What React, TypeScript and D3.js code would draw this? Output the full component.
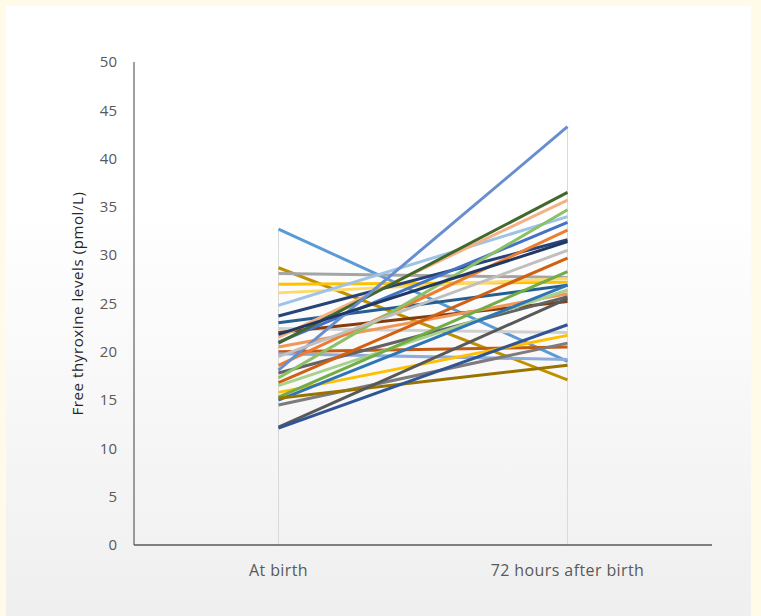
import React from 'react';
import * as d3 from 'd3';

const categories = ['At birth', '72 hours after birth'];

// one entry per infant: value at birth, value 72 h later
const atBirth = [
  32.7, 28.7, 28.1, 27.0, 26.1, 24.8, 23.7, 23.0, 22.4, 22.0,
  21.5, 21.0, 20.9, 20.5, 20.0, 19.8, 18.6, 18.1, 17.8, 17.3,
  16.8, 16.5, 15.8, 15.3, 15.0, 14.5, 15.2, 12.2, 12.1, 21.8, 19.5,
];
const after72h = [
  19.0, 17.1, 27.7, 27.2, 27.6, 34.0, 31.6, 26.9, 22.0, 25.2,
  35.7, 33.4, 36.5, 26.0, 20.5, 19.2, 32.6, 43.3, 25.7, 34.7,
  29.7, 26.4, 21.7, 28.3, 26.9, 20.9, 18.6, 25.5, 22.8, 31.4, 30.5,
];
const seriesColors = [
  '#5B9BD5', '#BF9000', '#A5A5A5', '#FFC000', '#FFD966', '#9DC3E6', '#264478', '#255E91', '#D0D0D0', '#843C0C',
  '#F4B183', '#4472C4', '#43682B', '#F1975A', '#C55A11', '#8FAADC', '#ED7D31', '#698ED0', '#636363', '#8CC168',
  '#D26012', '#A9D18E', '#FFC000', '#70AD47', '#2E75B6', '#7C7C7C', '#997300', '#595959', '#2F5597', '#1F3864', '#BFBFBF',
];
const yTicks = [0, 5, 10, 15, 20, 25, 30, 35, 40, 45, 50];

const W = 761;
const H = 616;
const FONT = 'Open Sans, sans-serif';

export default function App() {
  const x = d3.scalePoint<string>().domain(categories).range([134, 712]).padding(0.5);
  const y = d3.scaleLinear().domain([0, 50]).range([545, 62]);

  const line = d3.line<[string, number]>()
    .x(d => x(d[0]) as number)
    .y(d => y(d[1]));

  const maxAt = [d3.max(atBirth) as number, d3.max(after72h) as number];

  return (
    <div style={{ position: 'absolute', left: 0, top: 0 }}>
      <svg width={W} height={H} style={{ display: 'block' }}>
        <defs>
          <linearGradient id="card" x1="0" y1="0" x2="0" y2="1">
            <stop offset="0" stopColor="#ffffff" />
            <stop offset="0.33" stopColor="#ffffff" />
            <stop offset="1" stopColor="#efefef" />
          </linearGradient>
        </defs>
        <rect x={0} y={0} width={W} height={H} fill="#FFFBE8" />
        <rect x={6} y={6} width={745} height={H - 6} fill="url(#card)" />

        {/* drop lines */}
        {categories.map((c, i) => (
          <line key={c} x1={x(c)} x2={x(c)} y1={y(maxAt[i])} y2={y(0)} stroke="#D9D9D9" strokeWidth={1} />
        ))}

        {/* series */}
        {atBirth.map((v, i) => (
          <path
            key={i}
            d={line([[categories[0], v], [categories[1], after72h[i]]]) as string}
            fill="none"
            stroke={seriesColors[i]}
            strokeWidth={3}
          />
        ))}

        {/* axes */}
        <line x1={134} x2={134} y1={y(50)} y2={y(0)} stroke="#404040" strokeWidth={1} />
        <line x1={134} x2={712} y1={y(0)} y2={y(0)} stroke="#595959" strokeWidth={1.5} />

        {yTicks.map(t => (
          <text key={t} x={117} y={y(t)} dy="0.35em" textAnchor="end"
            fontFamily={FONT} fontSize={15} fill="#595959">{t}</text>
        ))}

        {categories.map(c => (
          <text key={c} x={x(c)} y={576} textAnchor="middle"
            fontFamily={FONT} fontSize={16} letterSpacing={0.4} fill="#595959">{c}</text>
        ))}

        <text transform={`translate(83,${(y(0) + y(50)) / 2}) rotate(-90)`} textAnchor="middle"
          fontFamily={FONT} fontSize={15} letterSpacing={0.6} fill="#262626">Free thyroxine levels (pmol/L)</text>
      </svg>
    </div>
  );
}
